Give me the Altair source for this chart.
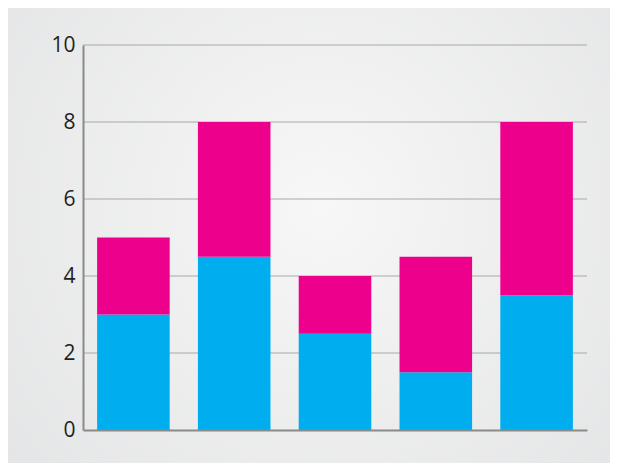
import altair as alt
import pandas as pd

# Dados das barras empilhadas
categorias = ["A", "B", "C", "D", "E"]
serie_azul = [3.0, 4.5, 2.5, 1.5, 3.5]
serie_rosa = [2.0, 3.5, 1.5, 3.0, 4.5]
y_ticks = [0, 2, 4, 6, 8, 10]

df = pd.DataFrame({
    "categoria": categorias * 2,
    "serie": ["azul"] * len(categorias) + ["rosa"] * len(categorias),
    "ordem": [0] * len(categorias) + [1] * len(categorias),
    "valor": serie_azul + serie_rosa,
})
df_grade = pd.DataFrame({"valor": y_ticks[1:]})

W, H = 504, 385
PAD = {"left": 75, "top": 37, "right": 23, "bottom": 33}

# Fundo com gradiente radial cobrindo toda a área
gradiente = {
    "gradient": "radial",
    "x1": 0.52, "y1": 0.45, "r1": 0,
    "x2": 0.52, "y2": 0.45, "r2": 0.75,
    "stops": [
        {"offset": 0, "color": "#f7f7f7"},
        {"offset": 1, "color": "#e2e3e4"},
    ],
}
fundo = alt.Chart(pd.DataFrame({"k": [0]})).mark_rect(
    color=gradiente, clip=False
).encode(
    x=alt.value(-PAD["left"]),
    x2=alt.value(W + PAD["right"]),
    y=alt.value(-PAD["top"]),
    y2=alt.value(H + PAD["bottom"]),
)

escala_y = alt.Scale(domain=[0, 10], nice=False)

# Linhas de grade desenhadas abaixo das barras
grade = alt.Chart(df_grade).mark_rule(color="#a8a8a8", strokeWidth=1).encode(
    y=alt.Y("valor:Q", scale=escala_y),
)

barras = alt.Chart(df).mark_bar().encode(
    x=alt.X("categoria:N", sort=categorias, title=None,
            scale=alt.Scale(paddingInner=0.28, paddingOuter=0.14),
            axis=alt.Axis(labels=False, ticks=False, domainColor="#8a8a8a",
                          domainWidth=2, zindex=1)),
    y=alt.Y("valor:Q", stack="zero", title=None, scale=escala_y,
            axis=alt.Axis(values=y_ticks, ticks=False, grid=False,
                          domainColor="#8a8a8a", domainWidth=2, zindex=1,
                          labelFont="Open Sans", labelFontSize=21,
                          labelFontWeight="normal",
                          labelColor="#231f20", labelPadding=8)),
    color=alt.Color("serie:N", legend=None,
                    scale=alt.Scale(domain=["azul", "rosa"],
                                    range=["#00aeef", "#ec008c"])),
    order=alt.Order("ordem:Q", sort="ascending"),
)

chart = alt.layer(fundo, grade, barras).properties(
    width=W, height=H,
    autosize=alt.AutoSizeParams(type="none"),
    padding=PAD,
    background="#e6e7e8",
).configure_view(stroke=None)

chart.save("out.html", embed_options={"renderer": "svg", "actions": False})
